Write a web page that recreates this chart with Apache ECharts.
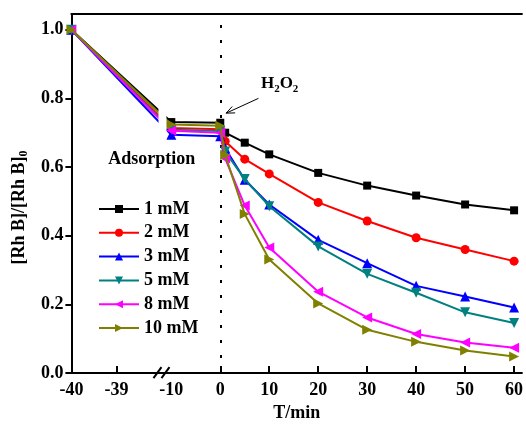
<!DOCTYPE html>
<html>
<head>
<meta charset="utf-8">
<script src="https://cdn.jsdelivr.net/npm/echarts@6/dist/echarts.min.js"></script>
<style>
  html, body { margin: 0; padding: 0; background: #ffffff; }
  #chart { width: 526px; height: 427px; }
</style>
</head>
<body>
<div id="chart"></div>
<script>
// Sampling times (min); negative times are the dark adsorption stage
const times = [-40, -10, 0, 1, 5, 10, 20, 30, 40, 50, 60];

// Normalised Rh B concentration for each H2O2 dose
const c1mM  = [1.0, 0.731, 0.729, 0.700, 0.671, 0.637, 0.583, 0.546, 0.517, 0.491, 0.474];
const c2mM  = [1.0, 0.714, 0.710, 0.675, 0.623, 0.580, 0.497, 0.443, 0.394, 0.360, 0.326];
const c3mM  = [1.0, 0.694, 0.690, 0.655, 0.563, 0.491, 0.388, 0.320, 0.254, 0.223, 0.191];
const c5mM  = [1.0, 0.709, 0.705, 0.645, 0.565, 0.486, 0.369, 0.289, 0.234, 0.177, 0.146];
const c8mM  = [1.0, 0.706, 0.700, 0.625, 0.488, 0.366, 0.237, 0.162, 0.114, 0.089, 0.074];
const c10mM = [1.0, 0.724, 0.720, 0.635, 0.463, 0.331, 0.203, 0.126, 0.091, 0.066, 0.048];

const seriesNames = ['1 mM', '2 mM', '3 mM', '5 mM', '8 mM', '10 mM'];

// Axis ticks
const tickTimes  = [-40, -39, -10, 0, 10, 20, 30, 40, 50, 60];
const tickLabels = ['-40', '-39', '-10', '0', '10', '20', '30', '40', '50', '60'];
const yTicks = [0, 0.2, 0.4, 0.6, 0.8, 1.0];

// Broken time axis: -40..-39 stretched, -39..-10 squeezed, linear from -10 on
function warp(t) {
  if (t >= -10) return t;
  if (t >= -39) return -21.2 + (t + 39) * (11.2 / 29);
  return -30.4 + (t + 40) * 9.2;
}
const xMin = warp(-40);
const xMax = 61.6;
const breakU = -11.8;

const FONT = '"Liberation Serif", "Times New Roman", serif';

const styles = [
  { data: c1mM,  color: '#000000', symbol: 'rect',     size: 8,  rotate: 0 },
  { data: c2mM,  color: '#ff0000', symbol: 'circle',   size: 9,  rotate: 0 },
  { data: c3mM,  color: '#0000ff', symbol: 'triangle', size: 10, rotate: 0 },
  { data: c5mM,  color: '#008080', symbol: 'triangle', size: 10, rotate: 180 },
  { data: c8mM,  color: '#ff00ff', symbol: 'triangle', size: 10, rotate: 90 },
  { data: c10mM, color: '#808000', symbol: 'triangle', size: 10, rotate: -90 }
];

const labelU = tickTimes.map(warp);
const tickU = tickTimes.filter(t => t !== -40 && t !== -10).map(warp);

const series = styles.map((s, i) => ({
  name: seriesNames[i],
  type: 'line',
  data: times.map((t, k) => [warp(t), s.data[k]]),
  symbol: s.symbol,
  symbolSize: s.size,
  symbolRotate: s.rotate,
  showAllSymbol: true,
  color: s.color,
  itemStyle: { color: s.color },
  lineStyle: { color: s.color, width: 2 },
  z: 2 + i
}));

// dotted line marking the H2O2 addition
series[0].markLine = {
  silent: true,
  symbol: 'none',
  label: { show: false },
  lineStyle: { color: '#000', width: 2, type: [3, 12], cap: 'butt' },
  data: [{ xAxis: 0 }]
};

const chart = echarts.init(document.getElementById('chart'), null, { renderer: 'canvas' });

chart.setOption({
  animation: false,
  backgroundColor: '#ffffff',
  grid: { left: 66, right: 0, top: 14, bottom: 47, containLabel: false },
  legend: {
    orient: 'vertical',
    left: 93,
    top: 195,
    itemWidth: 40,
    itemHeight: 10,
    itemGap: 5.8,
    textStyle: { fontFamily: FONT, fontWeight: 'bold', fontSize: 18, color: '#000', lineHeight: 18 },
    data: seriesNames
  },
  xAxis: [{
    type: 'value',
    min: xMin,
    max: xMax,
    name: 'T/min',
    nameLocation: 'middle',
    nameGap: 27,
    nameTextStyle: { fontFamily: FONT, fontWeight: 'bold', fontSize: 18, color: '#000' },
    axisLine: { onZero: false, lineStyle: { color: '#000', width: 2 } },
    axisTick: { inside: true, length: 7, lineStyle: { color: '#000', width: 2 }, customValues: tickU },
    axisLabel: {
      customValues: labelU,
      margin: 8,
      fontFamily: FONT, fontWeight: 'bold', fontSize: 18, color: '#000',
      formatter: function (v) {
        let best = 0;
        for (let i = 1; i < labelU.length; i++) {
          if (Math.abs(labelU[i] - v) < Math.abs(labelU[best] - v)) best = i;
        }
        return tickLabels[best];
      }
    },
    splitLine: { show: false }
  }, {
    type: 'value',
    position: 'top',
    min: xMin,
    max: xMax,
    axisLine: { show: true, onZero: false, lineStyle: { color: '#000', width: 2 } },
    axisTick: { show: false },
    axisLabel: { show: false },
    splitLine: { show: false }
  }],
  yAxis: {
    type: 'value',
    min: 0,
    max: 1.0457,
    interval: 0.2,
    name: '[Rh B]/[Rh B]{s|0}',
    nameLocation: 'middle',
    nameRotate: 90,
    nameGap: 40,
    nameTextStyle: {
      fontFamily: FONT, fontWeight: 'bold', fontSize: 18, color: '#000', lineHeight: 22,
      padding: [0, 28, 0, 0],
      rich: { s: { fontFamily: FONT, fontWeight: 'bold', fontSize: 12, color: '#000', verticalAlign: 'bottom', lineHeight: 11 } }
    },
    axisLine: { show: true, onZero: false, lineStyle: { color: '#000', width: 2 } },
    axisTick: { show: true, inside: false, length: 6, lineStyle: { color: '#000', width: 2 }, customValues: yTicks },
    axisLabel: {
      customValues: yTicks,
      margin: 8,
      fontFamily: FONT, fontWeight: 'bold', fontSize: 18, color: '#000',
      formatter: v => v.toFixed(1)
    },
    splitLine: { show: false }
  },
  series: series
});

// annotations placed through the axis scales
function px(u, v) { return chart.convertToPixel({ gridIndex: 0 }, [u, v]); }

const bx = px(breakU, 0)[0];
const axisY = px(0, 0)[1];
const gapTop = px(0, 0.82)[1];
const gapBot = px(0, 0.68)[1];

const arrowStart = px(7.8, 0.80);
const arrowEnd = px(1.2, 0.757);
const ang = Math.atan2(arrowStart[1] - arrowEnd[1], arrowStart[0] - arrowEnd[0]);
const headLen = 9, headSpread = 0.4;
const head1 = [arrowEnd[0] + headLen * Math.cos(ang + headSpread), arrowEnd[1] + headLen * Math.sin(ang + headSpread)];
const head2 = [arrowEnd[0] + headLen * Math.cos(ang - headSpread), arrowEnd[1] + headLen * Math.sin(ang - headSpread)];

const h2o2Pos = px(8.3, 0.842);
const adsPos = px(-14.0, 0.623);

chart.setOption({
  graphic: [
    // gap in the curves at the axis break
    { type: 'rect', z: 50, shape: { x: bx - 4, y: gapTop, width: 8, height: gapBot - gapTop }, style: { fill: '#ffffff' } },
    // break marks on the time axis
    { type: 'line', z: 60, shape: { x1: bx - 9, y1: axisY + 5, x2: bx - 1, y2: axisY - 6 }, style: { stroke: '#000', lineWidth: 2 } },
    { type: 'line', z: 60, shape: { x1: bx - 1, y1: axisY + 5, x2: bx + 7, y2: axisY - 6 }, style: { stroke: '#000', lineWidth: 2 } },
    // arrow to the H2O2 addition point
    { type: 'line', z: 60, shape: { x1: arrowStart[0], y1: arrowStart[1], x2: arrowEnd[0], y2: arrowEnd[1] }, style: { stroke: '#000', lineWidth: 1 } },
    { type: 'polyline', z: 60, shape: { points: [head1, arrowEnd, head2] }, style: { stroke: '#000', lineWidth: 1, fill: null } },
    {
      type: 'text', z: 60, x: h2o2Pos[0], y: h2o2Pos[1],
      style: {
        text: 'H{s|2}O{s|2}',
        fontFamily: FONT, fontWeight: 'bold', fontSize: 17, fill: '#000', lineHeight: 22,
        rich: { s: { fontFamily: FONT, fontWeight: 'bold', fontSize: 11, fill: '#000', verticalAlign: 'bottom', lineHeight: 11 } },
        align: 'left', verticalAlign: 'middle'
      }
    },
    {
      type: 'text', z: 60, x: adsPos[0], y: adsPos[1],
      style: { text: 'Adsorption', fontFamily: FONT, fontWeight: 'bold', fontSize: 18, fill: '#000', align: 'center', verticalAlign: 'middle' }
    }
  ]
});
</script>
</body>
</html>
